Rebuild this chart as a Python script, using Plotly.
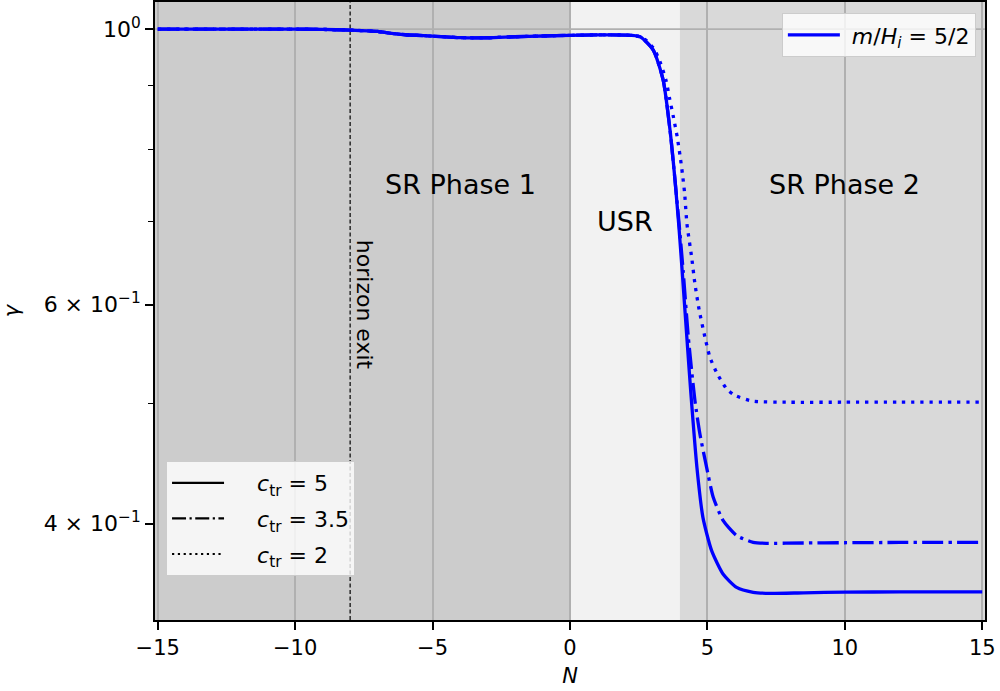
import math
import plotly.graph_objects as go

# ---------------- data ----------------
N_early = [-15, -12, -10, -9, -8, -7, -6.5, -6, -5, -4, -3, -2, -1, 0, 1, 2, 2.55]
g_early = [1.0, 1.0, 0.9998, 0.9993, 0.998, 0.9955, 0.992, 0.9895, 0.987, 0.9842,
           0.984, 0.9858, 0.9872, 0.9884, 0.9892, 0.9889, 0.9858]

N_c5 = [3.03, 3.39, 3.64, 3.82, 3.964, 4.08, 4.251, 4.399, 4.618, 4.836, 5.153,
        5.575, 6.062, 6.665, 7.27, 8.5, 10, 12, 15]
g_c5 = [0.9618, 0.9097, 0.829, 0.756, 0.6929, 0.6393, 0.565, 0.5088, 0.4439, 0.4046,
        0.3804, 0.3641, 0.3553, 0.3521, 0.3514, 0.3518, 0.3522, 0.3524, 0.3524]

N_c35 = [3.03, 3.39, 3.64, 3.82, 3.98, 4.116, 4.305, 4.545, 4.727, 4.971, 5.211,
         5.575, 6.062, 6.665, 7.15, 8.5, 10, 12, 15]
g_c35 = [0.9618, 0.9097, 0.829, 0.756, 0.6929, 0.6393, 0.565, 0.5025, 0.4722, 0.4439,
         0.4199, 0.4021, 0.3912, 0.3863, 0.3856, 0.3858, 0.386, 0.3862, 0.3862]

N_c2 = [2.8, 3.07, 3.3, 3.5, 3.63, 3.77, 3.9, 4.0, 4.09, 4.17, 4.255, 4.425, 4.545,
        4.702, 4.909, 5.09, 5.356, 5.698, 6.0, 6.65, 8, 10, 12, 15]
g_c2 = [0.978, 0.963, 0.938, 0.908, 0.878, 0.848, 0.819, 0.792, 0.765, 0.738, 0.697,
        0.6556, 0.6238, 0.5938, 0.5651, 0.5445, 0.528, 0.5135, 0.5072, 0.5018,
        0.5008, 0.5008, 0.5008, 0.5008]

series_names = ["<i>c</i><sub>tr</sub> = 5", "<i>c</i><sub>tr</sub> = 3.5", "<i>c</i><sub>tr</sub> = 2"]
mass_label = "<i>m</i>/<i>H<sub>i</sub></i> = 5/2"

x_ticks = [-15, -10, -5, 0, 5, 10, 15]
y_ticks = [0.4, 0.6, 1.0]
y_ticktext = ["4 × 10<sup>−1</sup>", "6 × 10<sup>−1</sup>", "10<sup>0</sup>"]
y_minor = [0.5, 0.7, 0.8, 0.9]

phase_edges = [-15.1, 0, 4, 15.1]
phase_colors = ["#cccccc", "#f2f2f2", "#d9d9d9"]
phase_labels = ["SR Phase 1", "USR", "SR Phase 2"]
phase_label_x = [-4, 2, 10]
phase_label_y = [0.75, 0.70, 0.75]

horizon_exit_N = -8
x_range = [-15.1, 15.1]
y_range_vals = [0.3345, 1.0514]

FONT = "DejaVu Sans"
BLUE = "#0000ff"
PAD = "&nbsp;"

fig = go.Figure()

# shaded phases
for i, col in enumerate(phase_colors):
    fig.add_shape(type="rect", xref="x", yref="paper",
                  x0=phase_edges[i], x1=phase_edges[i + 1], y0=0, y1=1,
                  fillcolor=col, line_width=0, layer="below")

# horizontal major grid at 10^0
fig.add_trace(go.Scatter(x=x_range, y=[y_ticks[-1], y_ticks[-1]], mode="lines",
                         line=dict(color="#b0b0b0", width=1.7),
                         showlegend=False, hoverinfo="skip"))

# horizon exit dashed line
fig.add_trace(go.Scatter(x=[horizon_exit_N, horizon_exit_N], y=y_range_vals, mode="lines",
                         line=dict(color="black", width=1.2, dash="4px,2.5px"),
                         showlegend=False, hoverinfo="skip"))

curves = [
    (N_early + N_c5, g_early + g_c5, "solid"),
    (N_early + N_c35, g_early + g_c35, "21px,5.3px,3.3px,5.3px"),
    (N_early + N_c2, g_early + g_c2, "3.3px,5.9px"),
]
for k, (xs, ys, dash) in enumerate(curves):
    fig.add_trace(go.Scatter(x=xs, y=ys, mode="lines",
                             line=dict(color=BLUE, width=3.3, dash=dash,
                                       shape="spline", smoothing=0.6),
                             name=PAD + mass_label, showlegend=(k == 0),
                             legend="legend", hoverinfo="skip"))

legend_dashes = ["solid", "14px,3.5px,2.2px,3.5px", "2.2px,3.6px"]
for i, (name, dash) in enumerate(zip(series_names, legend_dashes)):
    fig.add_trace(go.Scatter(x=[None], y=[None], mode="lines",
                             line=dict(color="black", width=2.2, dash=dash),
                             name=PAD * 4 + name, legend="legend2", legendgroup=f"g{i}",
                             showlegend=True))

# annotations
for lab, lx, ly in zip(phase_labels, phase_label_x, phase_label_y):
    fig.add_annotation(x=lx, y=math.log10(ly), xref="x", yref="y", text=lab,
                       showarrow=False, font=dict(family=FONT, size=27, color="black"))
fig.add_annotation(x=horizon_exit_N + 0.5, y=math.log10(0.6), xref="x", yref="y",
                   text="horizon exit", textangle=90, showarrow=False,
                   font=dict(family=FONT, size=22, color="black"))

fig.update_layout(
    width=1000, height=691,
    margin=dict(l=155, r=15, t=2, b=71, autoexpand=False),
    paper_bgcolor="white", plot_bgcolor="white",
    font=dict(family=FONT, size=21, color="black"),
    xaxis=dict(range=x_range, tickvals=x_ticks, automargin=False,
               ticktext=[("−" if v < 0 else "") + str(abs(v)) for v in x_ticks],
               ticks="outside", ticklen=8, tickwidth=1.6, tickcolor="black",
               showgrid=True, gridcolor="#b0b0b0", gridwidth=1.7,
               showline=True, linecolor="black", linewidth=1.7, mirror=True,
               zeroline=False, tickfont=dict(family=FONT, size=21),
               title=dict(text="<i>N</i>", font=dict(family=FONT, size=21), standoff=9)),
    yaxis=dict(type="log", range=[math.log10(v) for v in y_range_vals], automargin=False,
               tickvals=y_ticks, ticktext=y_ticktext,
               ticks="outside", ticklen=8, tickwidth=1.6, tickcolor="black",
               minor=dict(tickvals=y_minor, ticks="outside", ticklen=5,
                          tickwidth=1.2, tickcolor="black", showgrid=False),
               showgrid=False, zeroline=False,
               showline=True, linecolor="black", linewidth=1.7, mirror=True,
               tickfont=dict(family=FONT, size=22),
               title=dict(text="<i>γ</i>", font=dict(family=FONT, size=21), standoff=22)),
    legend=dict(x=0.989, y=0.982, xanchor="right", yanchor="top", itemwidth=52,
                bgcolor="rgba(255,255,255,0.8)", bordercolor="#cccccc", borderwidth=1,
                font=dict(family=FONT, size=22)),
    legend2=dict(x=0.0133, y=0.0712, xanchor="left", yanchor="bottom", itemwidth=52,
                 tracegroupgap=4, traceorder="grouped",
                 bgcolor="rgba(255,255,255,0.8)", bordercolor="#cccccc", borderwidth=1,
                 font=dict(family=FONT, size=22)),
)

fig.write_html("out.html", config={"displayModeBar": False},
               post_script="document.body.style.margin='0px';")
